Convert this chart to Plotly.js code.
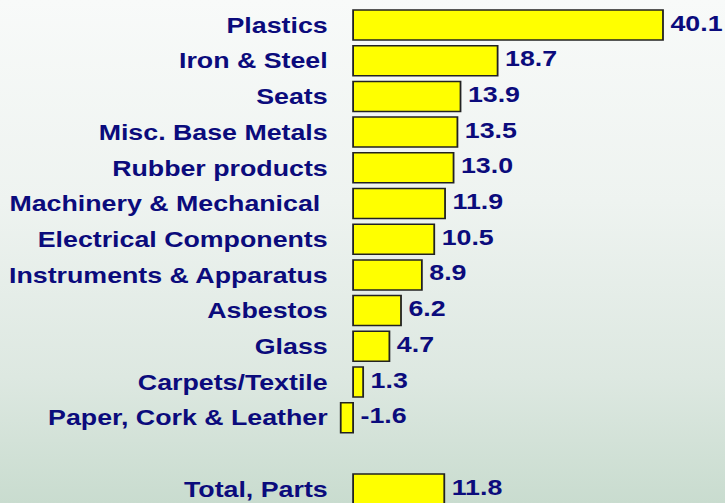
<!DOCTYPE html>
<html>
<head>
<meta charset="utf-8">
<script src="https://cdn.plot.ly/plotly-3.0.1.min.js"></script>
<style>
  html, body { margin: 0; padding: 0; }
  body {
    width: 725px; height: 503px; overflow: hidden;
    background: linear-gradient(to bottom, #f8faf9 0%, #eef3f0 40%, #dde8e1 75%, #c9dccf 100%);
  }
  #chart { width: 604px; height: 503px; transform: scaleX(1.2003); transform-origin: 0 0; }
</style>
</head>
<body>
<div id="chart"></div>
<script>
const categories = ["Plastics", "Iron & Steel", "Seats", "Misc. Base Metals", "Rubber products",
  "Machinery & Mechanical\u00a0", "Electrical Components", "Instruments & Apparatus",
  "Asbestos", "Glass", "Carpets/Textile", "Paper, Cork & Leather"];
const values = [40.1, 18.7, 13.9, 13.5, 13.0, 11.9, 10.5, 8.9, 6.2, 4.7, 1.3, -1.6];
const totalLabel = "Total, Parts";
const totalValue = 11.8;

const labels = categories.concat([totalLabel]);
const vals = values.concat([totalValue]);
// row positions: one blank row between the items and the total
const rows = categories.map((c, i) => i).concat([categories.length + 1]);

const navy = "#0b0b7c";
const fontFam = "Liberation Sans";
const fs = 22.3;

const bars = {
  type: "bar", orientation: "h",
  x: vals, y: rows,
  width: 0.84,
  marker: { color: "#ffff00", line: { color: "#222222", width: 1.5 } },
  hoverinfo: "skip"
};
const valueText = {
  type: "scatter", mode: "text",
  x: vals.map(v => Math.max(v, 0)), y: rows,
  text: vals.map(v => "<b>\u00a0" + v.toFixed(1) + "</b>"),
  textposition: "middle right",
  textfont: { family: fontFam, size: fs, color: navy },
  cliponaxis: false, hoverinfo: "skip"
};

const layout = {
  width: 604, height: 503,
  margin: { l: 280, r: 0, t: 0, b: 0, pad: 0 },
  paper_bgcolor: "rgba(0,0,0,0)", plot_bgcolor: "rgba(0,0,0,0)",
  showlegend: false, hovermode: false,
  font: { family: fontFam },
  xaxis: { range: [-2.2, 48.12], showgrid: false, zeroline: false, showticklabels: false, showline: false, fixedrange: true },
  yaxis: {
    range: [13.39, -0.70], tickvals: rows, ticktext: labels.map(l => "<b>" + l + "</b>"),
    showgrid: false, zeroline: false, showline: false, ticks: "",
    ticklabelstandoff: 6,
    tickfont: { family: fontFam, size: fs, color: navy },
    fixedrange: true
  }
};

Plotly.newPlot("chart", [bars, valueText], layout, { displayModeBar: false, staticPlot: true });
</script>
</body>
</html>
